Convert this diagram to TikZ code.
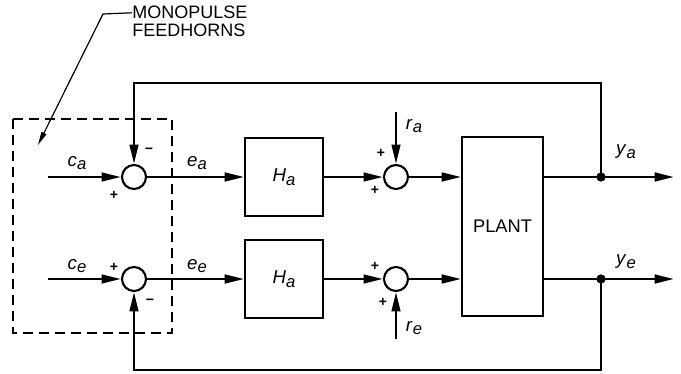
\documentclass[tikz,border=0pt]{standalone}
\usepackage{fontspec}
\setmainfont{Liberation Sans}
\usetikzlibrary{arrows.meta}
\newcommand\vsub[2]{\textit{#1}\raisebox{-0.35ex}{\textit{\fontsize{12.5}{13}\selectfont #2}}}
\begin{document}
\begin{tikzpicture}[x=0.75pt,y=-0.75pt,
  sig/.style={line width=1.85pt},
  arr/.style={sig,-{Triangle[length=14.5pt,width=6.5pt]}},
  lead/.style={line width=0.9pt,-{Triangle[length=10pt,width=4pt]}},
  sumj/.style={circle,draw,line width=1.6pt,minimum size=18pt,inner sep=0pt,fill=white},
  blk/.style={rectangle,draw,line width=1.4pt,inner sep=0pt,fill=white},
  lbl/.style={font=\fontsize{14}{15}\selectfont,inner sep=0pt},
  sgn/.style={font=\fontsize{10.5}{11}\selectfont\bfseries,inner sep=0pt},
  dotn/.style={circle,fill,inner sep=0pt,minimum size=7pt},
  horns/.style={draw,line width=1.4pt,dash pattern=on 7.5pt off 4.5pt}]
\useasboundingbox (0,0) rectangle (681,374);

% dashed feedhorn box
\draw[horns] (13,119) rectangle (172,333);

% nodes
\node[sumj] (s1) at (134,177) {};
\node[sumj] (s2) at (134,279) {};
\node[blk,minimum width=58.5pt,minimum height=58.5pt] (h1) at (284,177) {\fontsize{14}{15}\selectfont\vsub{H}{a}};
\node[blk,minimum width=58.5pt,minimum height=58pt] (h2) at (284,279) {\fontsize{14}{15}\selectfont\vsub{H}{a}};
\node[sumj] (s3) at (396,177) {};
\node[sumj] (s4) at (396,279) {};
\node[blk,minimum width=60.75pt,minimum height=134.25pt,font=\fontsize{13.7}{15}\selectfont] (plant) at (502.5,226.5) {PLANT};

\coordinate (ca) at (48,177);
\coordinate (ce) at (48,279);
\coordinate (ra) at (396,112);
\coordinate (re) at (396,339);
\coordinate (ya) at (674,177);
\coordinate (ye) at (674,279);
\coordinate (fbt) at (601,83);
\coordinate (fbb) at (601,370);

% forward paths
\draw[arr] (ca) -- (s1.west);
\draw[arr] (ce) -- (s2.west);
\draw[arr] (s1.east) -- (s1.east -| h1.west);
\draw[arr] (s2.east) -- (s2.east -| h2.west);
\draw[arr] (h1.east) -- (s3.west);
\draw[arr] (h2.east) -- (s4.west);
\draw[arr] (s3.east) -- (s3.east -| plant.west);
\draw[arr] (s4.east) -- (s4.east -| plant.west);
\draw[arr] (ra) -- (s3.north);
\draw[arr] (re) -- (s4.south);
\draw[arr] (plant.east |- s3) -- (ya);
\draw[arr] (plant.east |- s4) -- (ye);

\node[dotn] (d1) at (601,177) {};
\node[dotn] (d2) at (601,279) {};

% feedback
\draw[arr] (d1.center) -- (fbt) -| (s1.north);
\draw[arr] (d2.center) -- (fbb) -| (s2.south);

% labels
\node[lbl] (lca) at (77,163) {\vsub{c}{a}};
\node[lbl] (lce) at (77,266) {\vsub{c}{e}};
\node[lbl] (lea) at (197,163) {\vsub{e}{a}};
\node[lbl] (lee) at (197,266) {\vsub{e}{e}};
\node[lbl] (lra) at (414,126) {\vsub{r}{a}};
\node[lbl] (lre) at (414,328) {\vsub{r}{e}};
\node[lbl] (lya) at (626,152) {\vsub{y}{a}};
\node[lbl] (lye) at (626,262) {\vsub{y}{e}};

% signs
\node[sgn] (p1) at (114,195) {+};
\node[sgn] (m1) at (149,151) {−};
\node[sgn] (p2) at (114,267) {+};
\node[sgn] (m2) at (150,302) {−};
\node[sgn] (p3) at (381,153) {+};
\node[sgn] (p4) at (375,190) {+};
\node[sgn] (p5) at (375,266) {+};
\node[sgn] (p6) at (383,302) {+};

% annotation
\node[anchor=base west,inner sep=0pt,font=\fontsize{13.5}{15}\selectfont] (mono1) at (132,19) {MONOPULSE};
\node[anchor=base west,inner sep=0pt,font=\fontsize{13.5}{15}\selectfont] (mono2) at (132,37) {FEEDHORNS};
\coordinate (bend) at (103,14);
\coordinate (tip) at (38,145);
\draw[lead] (mono1.west) -- (bend) -- (tip);
\end{tikzpicture}
\end{document}
